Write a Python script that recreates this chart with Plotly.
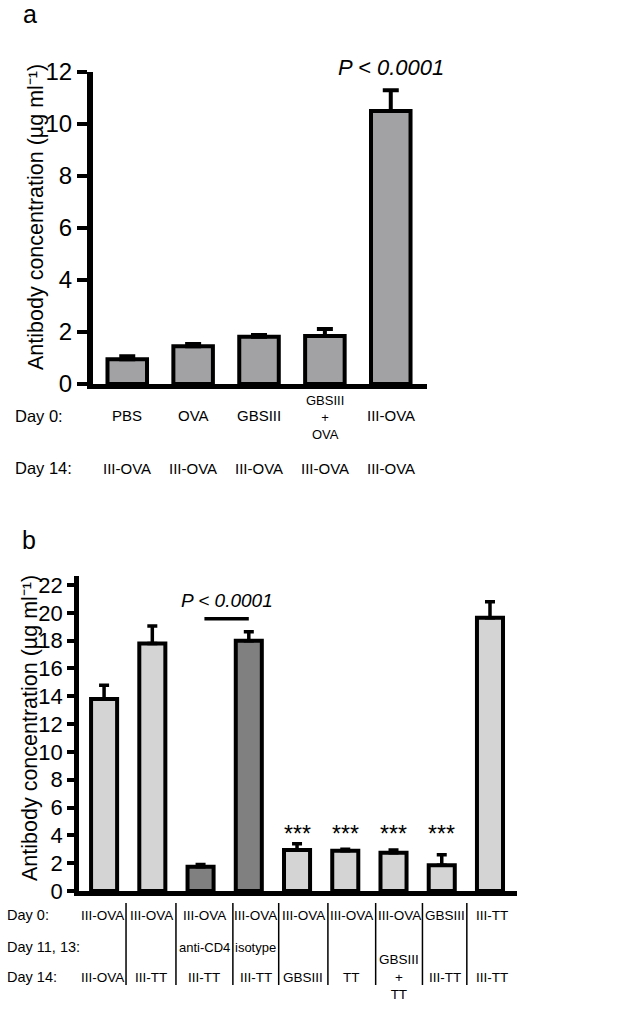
import plotly.graph_objects as go

W, H = 618, 1011
FONT = "Arial, Liberation Sans, Helvetica, sans-serif"

# ---------------- data ----------------
a_day0 = ["PBS", "OVA", "GBSIII", "GBSIII<br>+<br>OVA", "III-OVA"]
a_day14 = ["III-OVA", "III-OVA", "III-OVA", "III-OVA", "III-OVA"]
a_values = [0.95, 1.45, 1.82, 1.85, 10.5]
a_err = [0.12, 0.09, 0.06, 0.27, 0.8]
a_ticks = [0, 2, 4, 6, 8, 10, 12]

b_day0 = ["III-OVA", "III-OVA", "III-OVA", "III-OVA", "III-OVA", "III-OVA", "III-OVA", "GBSIII", "III-TT"]
b_day1113 = ["", "", "anti-CD4", "isotype", "", "", "", "", ""]
b_day14 = ["III-OVA", "III-TT", "III-TT", "III-TT", "GBSIII", "TT", "GBSIII<br>+<br>TT", "III-TT", "III-TT"]
b_values = [13.8, 17.8, 1.75, 18.0, 2.95, 2.9, 2.75, 1.85, 19.65]
b_err = [1.0, 1.25, 0.15, 0.65, 0.45, 0.1, 0.2, 0.75, 1.15]
b_colors = ["#d4d4d4", "#d4d4d4", "#808080", "#808080", "#d4d4d4", "#d4d4d4", "#d4d4d4", "#d4d4d4", "#d4d4d4"]
b_stars = ["", "", "", "", "***", "***", "***", "***", ""]
b_ticks = list(range(0, 23, 2))
b_separators = [0.455, 1.49, 2.67, 3.62, 4.64, 5.63, 6.60, 7.52]

ytitle = "Antibody concentration (µg ml⁻¹)"


def py(px):
    return 1 - px / H


def pxx(px):
    return px / W


a_x = list(range(len(a_values)))
b_x = list(range(len(b_values)))

fig = go.Figure()
fig.add_trace(go.Bar(
    x=a_x, y=a_values, width=0.6, xaxis="x", yaxis="y",
    marker=dict(color="#a2a2a4", line=dict(color="black", width=4)),
    error_y=dict(type="data", array=a_err, arrayminus=[0] * len(a_err), symmetric=False,
                 color="black", thickness=4, width=8),
    showlegend=False,
))
fig.add_trace(go.Bar(
    x=b_x, y=b_values, width=0.54, xaxis="x2", yaxis="y2",
    marker=dict(color=b_colors, line=dict(color="black", width=4)),
    error_y=dict(type="data", array=b_err, arrayminus=[0] * len(b_err), symmetric=False,
                 color="black", thickness=3.5, width=5),
    showlegend=False,
))

axis_common = dict(showgrid=False, zeroline=False, showline=True, linecolor="black")

fig.update_layout(
    width=W, height=H, margin=dict(l=0, r=0, t=0, b=0, autoexpand=False),
    paper_bgcolor="white", plot_bgcolor="white",
    font=dict(family=FONT, color="black"),
    xaxis=dict(domain=[pxx(93), pxx(427)], range=[-0.52, 4.55], showticklabels=False,
               ticks="", linewidth=5, anchor="y", **axis_common),
    yaxis=dict(domain=[py(384), py(72)], range=[0, 12], tickvals=a_ticks, ticks="outside",
               ticklen=10, tickwidth=4, tickcolor="black", linewidth=6, anchor="x",
               tickfont=dict(size=24, family=FONT), **axis_common),
    xaxis2=dict(domain=[pxx(79), pxx(517)], range=[-0.52, 8.56], showticklabels=False,
                ticks="", linewidth=4.5, anchor="y2", **axis_common),
    yaxis2=dict(domain=[py(891), py(576)], range=[0, 22.65], tickvals=b_ticks, ticks="outside",
                ticklen=7, tickwidth=4, tickcolor="black", linewidth=4.5, anchor="x2",
                tickfont=dict(size=22, family=FONT), **axis_common),
)

ann = []
# panel letters
ann.append(dict(text="a", x=pxx(30), y=py(14), xref="paper", yref="paper", showarrow=False,
                font=dict(size=25), xanchor="center", yanchor="middle"))
ann.append(dict(text="b", x=pxx(29), y=py(540), xref="paper", yref="paper", showarrow=False,
                font=dict(size=25), xanchor="center", yanchor="middle"))
# y titles
ann.append(dict(text=ytitle, x=pxx(36), y=py(217), xref="paper", yref="paper", showarrow=False,
                textangle=-90, font=dict(size=21.5), xanchor="center", yanchor="middle"))
ann.append(dict(text=ytitle, x=pxx(30), y=py(728), xref="paper", yref="paper", showarrow=False,
                textangle=-90, font=dict(size=21.5), xanchor="center", yanchor="middle"))
# P values
ann.append(dict(text="<i>P < 0.0001</i>", x=4, y=py(67), xref="x", yref="paper", showarrow=False,
                font=dict(size=22), xanchor="center", yanchor="middle"))
ann.append(dict(text="<i>P < 0.0001</i>", x=2.55, y=py(600), xref="x2", yref="paper", showarrow=False,
                font=dict(size=19), xanchor="center", yanchor="middle"))

# panel a row labels
ann.append(dict(text="Day 0:", x=pxx(13), y=py(416), xref="paper", yref="paper", showarrow=False,
                font=dict(size=16.5), xanchor="left", yanchor="middle"))
ann.append(dict(text="Day 14:", x=pxx(13), y=py(468), xref="paper", yref="paper", showarrow=False,
                font=dict(size=16.5), xanchor="left", yanchor="middle"))
for i, (t0, t14) in enumerate(zip(a_day0, a_day14)):
    small = "<br>" in t0
    ann.append(dict(text=t0, x=i, y=py(418 if small else 416), xref="x", yref="paper", showarrow=False,
                    font=dict(size=13 if small else 15), xanchor="center", yanchor="middle",
                    align="center"))
    ann.append(dict(text=t14, x=i, y=py(468), xref="x", yref="paper", showarrow=False,
                    font=dict(size=15), xanchor="center", yanchor="middle"))

# panel b row labels
for txt, yy in [("Day 0:", 915), ("Day 11, 13:", 947), ("Day 14:", 977)]:
    ann.append(dict(text=txt, x=pxx(5), y=py(yy), xref="paper", yref="paper", showarrow=False,
                    font=dict(size=14.5), xanchor="left", yanchor="middle"))
bounds = [-0.52] + b_separators + [8.56]
for i in range(len(b_values)):
    cx = (bounds[i] + bounds[i + 1]) / 2
    ann.append(dict(text=b_day0[i], x=cx, y=py(915), xref="x2", yref="paper", showarrow=False,
                    font=dict(size=13.5), xanchor="center", yanchor="middle"))
    if b_day1113[i]:
        ann.append(dict(text=b_day1113[i], x=cx, y=py(947), xref="x2", yref="paper", showarrow=False,
                        font=dict(size=13), xanchor="center", yanchor="middle"))
    ann.append(dict(text=b_day14[i], x=cx, y=py(977), xref="x2", yref="paper", showarrow=False,
                    font=dict(size=13.5), xanchor="center", yanchor="middle", align="center"))
    if b_stars[i]:
        ann.append(dict(text=b_stars[i], x=i, y=4.1, xref="x2", yref="y2", showarrow=False,
                        font=dict(size=23), xanchor="center", yanchor="middle"))

shapes = []
for s in b_separators:
    shapes.append(dict(type="line", x0=s, x1=s, y0=py(903), y1=py(985), xref="x2", yref="paper",
                       line=dict(color="black", width=1.5)))
# significance line over bars 3-4
shapes.append(dict(type="line", x0=2.08, x1=3.0, y0=19.57, y1=19.57, xref="x2", yref="y2",
                   line=dict(color="black", width=3.5)))

fig.update_layout(annotations=ann, shapes=shapes)
fig.write_html(
    "out.html",
    config={"displayModeBar": False},
    post_script="document.body.style.margin='0';document.body.style.padding='0';"
                "document.documentElement.style.overflow='hidden';",
)
